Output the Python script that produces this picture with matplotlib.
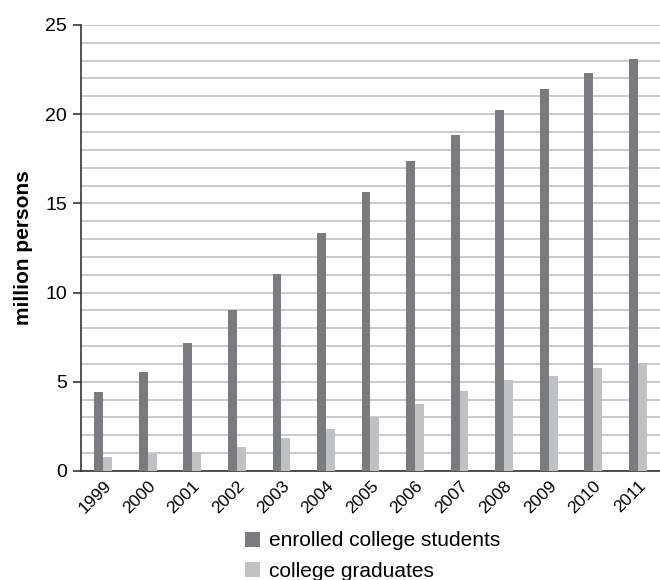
import numpy as np
import matplotlib.pyplot as plt

years = ['1999', '2000', '2001', '2002', '2003', '2004', '2005',
         '2006', '2007', '2008', '2009', '2010', '2011']
enrolled = [4.4, 5.55, 7.17, 9.02, 11.06, 13.34, 15.62, 17.39, 18.83, 20.22, 21.43, 22.31, 23.08]
graduates = [0.8, 0.95, 1.05, 1.33, 1.85, 2.35, 3.04, 3.76, 4.47, 5.1, 5.31, 5.75, 6.07]

plt.rcParams['font.family'] = ['Liberation Sans', 'DejaVu Sans']

fig = plt.figure(figsize=(6.6, 5.8), dpi=100)
ax = fig.add_axes([0.1227, 0.188, 0.8773, 0.769])

x = np.arange(len(years))
w = 0.2
ax.bar(x - w / 2, enrolled, w, color='#7a7b7f', label='enrolled college students', zorder=3)
ax.bar(x + w / 2, graduates, w, color='#c0c1c3', label='college graduates', zorder=3)

ax.set_xlim(-0.5, len(years) - 0.5)
ax.set_ylim(0, 25)
ax.set_yticks(range(0, 26, 5))
ax.set_yticks(range(0, 26), minor=True)
ax.grid(axis='y', which='both', color='#c6c6c6', linewidth=1.3, zorder=0)
ax.tick_params(axis='y', which='major', length=6, width=1.2, labelsize=14, color='#333333', pad=4)
ax.tick_params(axis='y', which='minor', length=0)
ax.set_xticks(x)
ax.set_xticklabels(years, rotation=45, ha='right', rotation_mode='anchor', fontsize=12.5)
ax.tick_params(axis='x', length=0, pad=5)

for s in ['top', 'right']:
    ax.spines[s].set_visible(False)
for s in ['left', 'bottom']:
    ax.spines[s].set_color('#333333')
    ax.spines[s].set_linewidth(1.2)

ax.set_ylabel('million persons', fontsize=15, fontweight='bold', labelpad=9)

fig.legend(loc='upper left', bbox_to_anchor=(0.358, 0.098), frameon=False,
           fontsize=15, handlelength=0.75, handleheight=0.75, handletextpad=0.4,
           labelspacing=0.55, borderaxespad=0)

fig.savefig('out.png', dpi=100)
